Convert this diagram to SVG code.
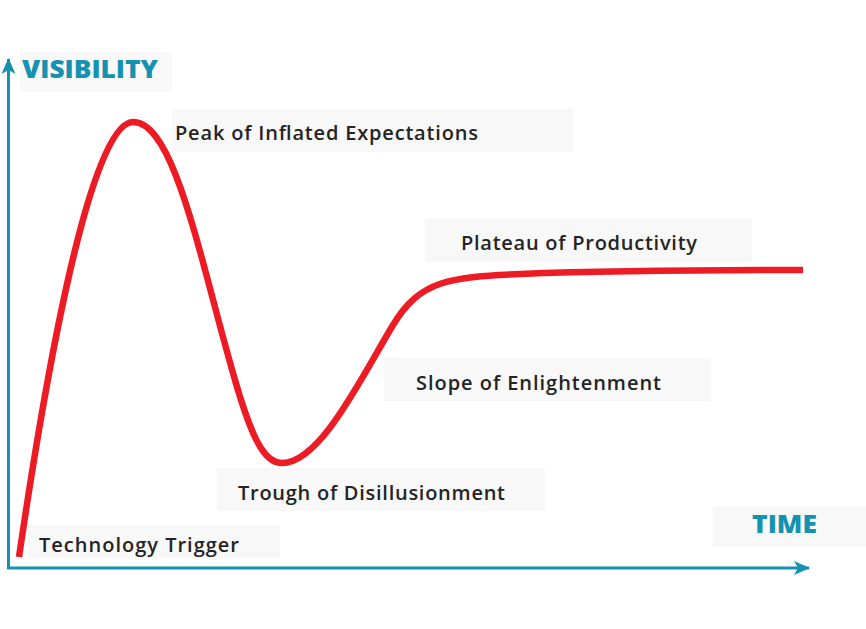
<svg xmlns="http://www.w3.org/2000/svg" width="866" height="629" viewBox="0 0 866 629">
<style>
.box{fill:#f8f8f8}
.lbl{font-family:"Open Sans","Liberation Sans",sans-serif;font-size:20px;font-weight:600;fill:#242424}
.ax{font-family:"Open Sans","Liberation Sans",sans-serif;font-size:25px;font-weight:800;fill:#1592b0}
.axis{stroke:#1592b0;stroke-width:3;fill:none}
.curve{stroke:#ed1c24;stroke-width:6.5;fill:none;stroke-linecap:butt}
</style>
<defs>
<marker id="ah" viewBox="0 0 16 14" refX="15" refY="7" markerWidth="16" markerHeight="14" markerUnits="userSpaceOnUse" orient="auto">
<path d="M0,0 L16,7 L0,14 L4,7 Z" fill="#1592b0"/>
</marker>
</defs>
<rect width="866" height="629" fill="#fff"/>
<g id="connectors">
<path class="axis" d="M8.5,568 L8.5,59" marker-end="url(#ah)"/>
<path class="axis" d="M7,568 L809,568" marker-end="url(#ah)"/>
<path class="curve" d="M19,557 C45,380 90,122 133,122 C175,122 200,260 235,380 C255,450 268,463 282,463 C320,463 360,380 393,325 C420,280 450,277 520,274 C600,271 700,270 803,270"/>
</g>
<g id="visibility">
<rect class="box" x="20" y="52" width="152" height="40"/>
<text class="ax" x="22" y="78" textLength="136" lengthAdjust="spacingAndGlyphs">VISIBILITY</text>
</g>
<g id="peak">
<rect class="box" x="172" y="109" width="402" height="43"/>
<text class="lbl" x="175" y="140" textLength="303">Peak of Inflated Expectations</text>
</g>
<g id="plateau">
<rect class="box" x="425" y="219" width="327" height="43"/>
<text class="lbl" x="461" y="250" textLength="236">Plateau of Productivity</text>
</g>
<g id="slope">
<rect class="box" x="384" y="358" width="327" height="43"/>
<text class="lbl" x="416" y="390" textLength="245">Slope of Enlightenment</text>
</g>
<g id="trough">
<rect class="box" x="217" y="468" width="328" height="43"/>
<text class="lbl" x="238" y="500" textLength="267">Trough of Disillusionment</text>
</g>
<g id="trigger">
<rect class="box" x="28" y="525" width="252" height="33"/>
<text class="lbl" x="39" y="552" textLength="200">Technology Trigger</text>
</g>
<g id="time">
<rect class="box" x="713" y="507" width="153" height="40"/>
<text class="ax" x="752" y="533" textLength="65" lengthAdjust="spacingAndGlyphs">TIME</text>
</g>
</svg>
